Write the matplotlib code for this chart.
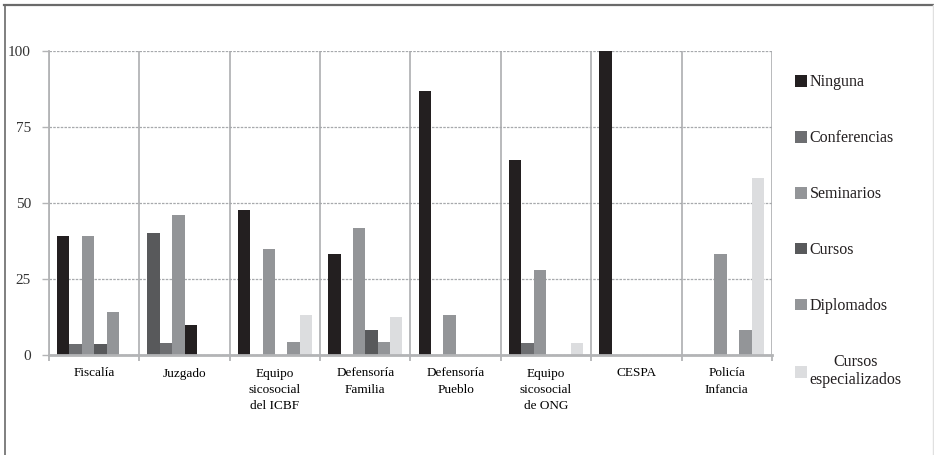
import matplotlib
matplotlib.use('Agg')
import matplotlib.pyplot as plt
import numpy as np
from matplotlib.lines import Line2D
from matplotlib.patches import Patch

# Porcentaje de participantes por tipo de formacion recibida
categorias = ['Fiscalía', 'Juzgado', 'Equipo\nsicosocial\ndel ICBF', 'Defensoría\nFamilia',
              'Defensoría\nPueblo', 'Equipo\nsicosocial\nde ONG', 'CESPA', 'Policía\nInfancia']
series = ['Ninguna', 'Conferencias', 'Seminarios', 'Cursos', 'Diplomados', 'Cursos\nespecializados']

ninguna = [39.3, 40.0, 47.8, 33.3, 86.7, 64.0, 100.0, 0]
conferencias = [3.6, 4.0, 0, 0, 0, 4.0, 0, 0]
seminarios = [39.3, 46.0, 34.8, 41.7, 13.3, 28.0, 0, 33.3]
cursos = [3.6, 10.0, 0, 8.3, 0, 0, 0, 0]
diplomados = [14.3, 0, 4.3, 4.2, 0, 0, 0, 8.3]
especializados = [0, 0, 13.0, 12.5, 0, 4.0, 0, 58.3]

valores = [ninguna, conferencias, seminarios, cursos, diplomados, especializados]
colores = ['#231f20', '#6d6e71', '#939598', '#58595b', '#939598', '#dcdddf']
# en Juzgado los tonos de Ninguna y Cursos vienen cambiados en el original
colores_punto = {(0, 1): '#58595b', (3, 1): '#231f20'}

SERIF = ['Liberation Serif', 'DejaVu Serif']
GRIS = '#b3b4b6'

fig = plt.figure(figsize=(9.34, 4.55), dpi=100)
ax = fig.add_axes([49 / 934, 1 - 355 / 455, (772 - 49) / 934, (355 - 51) / 455])

x = np.arange(len(categorias))
ancho = 0.137
for i, (nombre, vals) in enumerate(zip(series, valores)):
    cols = [colores_punto.get((i, j), colores[i]) for j in range(len(categorias))]
    ax.bar(x + (i - 2.5) * ancho, vals, ancho, color=cols, linewidth=0, zorder=3)

ax.set_xlim(-0.5, len(categorias) - 0.5)
ax.set_ylim(0, 100)
ax.set_yticks([0, 25, 50, 75, 100])
ax.set_xticks(x)
ax.set_xticklabels(categorias, family=SERIF, fontsize=9.5, linespacing=1.45, va='top')
ax.set_xticks(np.arange(len(categorias) + 1) - 0.5, minor=True)

ax.tick_params(axis='x', which='major', length=0, pad=9)
ax.tick_params(axis='x', which='minor', length=4, color=GRIS, width=1.3, direction='out')
ax.tick_params(axis='y', length=5, color=GRIS, width=1, pad=8, labelsize=11)
for lbl in ax.get_yticklabels():
    lbl.set_family(SERIF)
    lbl.set_color('#333333')

ax.yaxis.grid(True, color='#a7a9ac', linestyle=(0, (2, 1)), linewidth=0.9, zorder=0)
ax.xaxis.grid(True, which='minor', color=GRIS, linewidth=1.3, zorder=1)
ax.xaxis.grid(False, which='major')

for lado in ['top', 'right']:
    ax.spines[lado].set_visible(False)
ax.spines['left'].set_color(GRIS)
ax.spines['left'].set_linewidth(1.3)
ax.spines['bottom'].set_color(GRIS)
ax.spines['bottom'].set_linewidth(2)
ax.spines['bottom'].set_zorder(4)

handles = [Patch(facecolor=c, edgecolor='none') for c in colores]
ley = fig.legend(handles, series, loc='upper left', bbox_to_anchor=(789 / 934, 1 - 68 / 455),
                 frameon=False, prop={'family': SERIF, 'size': 11.5},
                 handlelength=0.75, handleheight=0.75, handletextpad=0.15,
                 labelspacing=2.5, borderaxespad=0)
for t in ley.get_texts():
    t.set_multialignment('center')
    t.set_color('#231f20')

# marco de la figura
fig.add_artist(Line2D([4 / 934, 1], [1 - 5 / 455, 1 - 5 / 455], color='#6a6a6a', lw=1.6))
fig.add_artist(Line2D([4.5 / 934, 4.5 / 934], [0, 1 - 5 / 455], color='#6a6a6a', lw=1.2))
fig.add_artist(Line2D([933 / 934, 933 / 934], [0, 1 - 5 / 455], color='#e0e0e0', lw=1))

fig.savefig('out.png', dpi=100)
